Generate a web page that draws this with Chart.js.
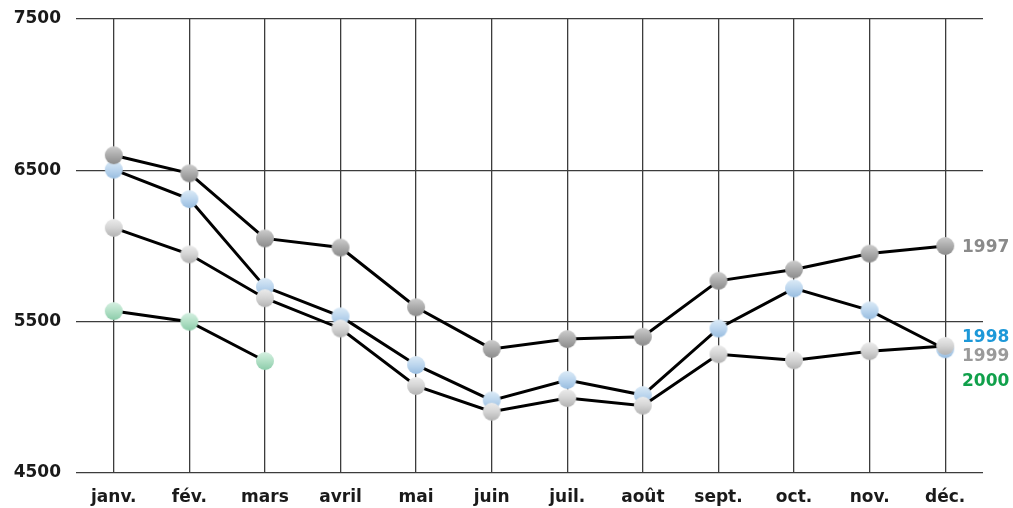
<!DOCTYPE html>
<html>
<head>
<meta charset="utf-8">
<script src="https://cdn.jsdelivr.net/npm/chart.js@4/dist/chart.umd.min.js"></script>
<style>
  html, body { margin: 0; padding: 0; background: #fff; }
  #wrap { width: 1013px; height: 508px; }
</style>
</head>
<body>
<div id="wrap"><canvas id="chart"></canvas></div>
<script>
const months = ["janv.", "fév.", "mars", "avril", "mai", "juin", "juil.", "août", "sept.", "oct.", "nov.", "déc."];
const yTicks = [4500, 5500, 6500, 7500];

const v1997 = [6600, 6480, 6050, 5990, 5595, 5320, 5385, 5400, 5770, 5845, 5950, 6000];
const v1998 = [6505, 6310, 5730, 5535, 5214, 4980, 5115, 5015, 5455, 5720, 5575, 5318];
const v1999 = [6120, 5945, 5655, 5455, 5075, 4905, 4995, 4945, 5285, 5245, 5305, 5340];
const v2000 = [5570, 5500, 5240];

const FONT = "'DejaVu Sans', 'Liberation Sans', sans-serif";

// little shaded balls used as point markers, lit from above
function ball(light, base, dark) {
  const r = 9;
  const c = document.createElement("canvas");
  c.width = c.height = r * 2 + 2;
  const g = c.getContext("2d");
  const grad = g.createLinearGradient(0, 1, 0, r * 2 + 1);
  grad.addColorStop(0, light);
  grad.addColorStop(0.5, base);
  grad.addColorStop(1, dark);
  g.fillStyle = grad;
  g.beginPath();
  g.arc(r + 1, r + 1, r, 0, Math.PI * 2);
  g.fill();
  return c;
}

const series = [
  { label: "1997", data: v1997, text: "#8a8a8a", marker: ball("#cdcdcd", "#ababab", "#8c8c8c"), order: 1 },
  { label: "1999", data: v1999, text: "#9a9a9a", marker: ball("#ececec", "#d4d4d4", "#b2b2b2"), order: 2 },
  { label: "1998", data: v1998, text: "#1d98d8", marker: ball("#dcebf7", "#bcd6ee", "#98bde0"), order: 3 },
  { label: "2000", data: v2000, text: "#10a04b", marker: ball("#d6f0e2", "#b2e0c6", "#8cccaa"), order: 4 },
];

const endLabels = {
  id: "endLabels",
  afterDraw(chart) {
    const { ctx, scales } = chart;
    const y = scales.y;
    const x = chart.chartArea.right - 21;
    const base = y.getPixelForValue(v1998[v1998.length - 1]);
    const pos = {
      "1997": y.getPixelForValue(v1997[v1997.length - 1]) + 2,
      "1998": base - 12,
      "1999": base + 7,
      "2000": base + 32,
    };
    ctx.save();
    ctx.font = "bold 17px " + FONT;
    ctx.textBaseline = "middle";
    ctx.textAlign = "left";
    series.forEach((s) => {
      ctx.fillStyle = s.text;
      ctx.fillText(s.label, x, pos[s.label]);
    });
    ctx.restore();
  },
};

new Chart(document.getElementById("chart"), {
  type: "line",
  data: {
    labels: months,
    datasets: series.map((s) => ({
      label: s.label,
      data: s.data,
      order: s.order,
      borderColor: "#000",
      borderWidth: 3,
      tension: 0,
      pointStyle: s.marker,
      pointRadius: 9,
      pointHoverRadius: 9,
    })),
  },
  options: {
    responsive: true,
    maintainAspectRatio: false,
    animation: false,
    layout: {
      padding: { top: 19, right: 30, left: 0, bottom: 0 },
    },
    scales: {
      x: {
        offset: true,
        grid: {
          offset: false,
          color: "#3c3c3c",
          lineWidth: 1.3,
          drawTicks: false,
        },
        border: { display: false },
        ticks: {
          color: "#1a1a1a",
          padding: 14,
          font: { family: FONT, size: 17, weight: "bold" },
        },
        afterFit: (scale) => {
          scale.height = 35;
          scale.paddingLeft = 0;
          scale.paddingRight = 0;
        },
      },
      y: {
        min: 4500,
        max: 7500,
        afterBuildTicks: (scale) => {
          scale.ticks = yTicks.map((v) => ({ value: v }));
        },
        grid: {
          color: "#3c3c3c",
          lineWidth: 1.3,
          drawTicks: false,
        },
        border: { display: false },
        ticks: {
          color: "#1a1a1a",
          padding: 15,
          font: { family: FONT, size: 17, weight: "bold" },
          callback: (v) => String(v),
        },
        afterFit: (scale) => {
          scale.width = 76;
          scale.paddingTop = 0;
          scale.paddingBottom = 0;
        },
      },
    },
    plugins: {
      legend: { display: false },
      tooltip: { enabled: false },
    },
  },
  plugins: [endLabels],
});
</script>
</body>
</html>
